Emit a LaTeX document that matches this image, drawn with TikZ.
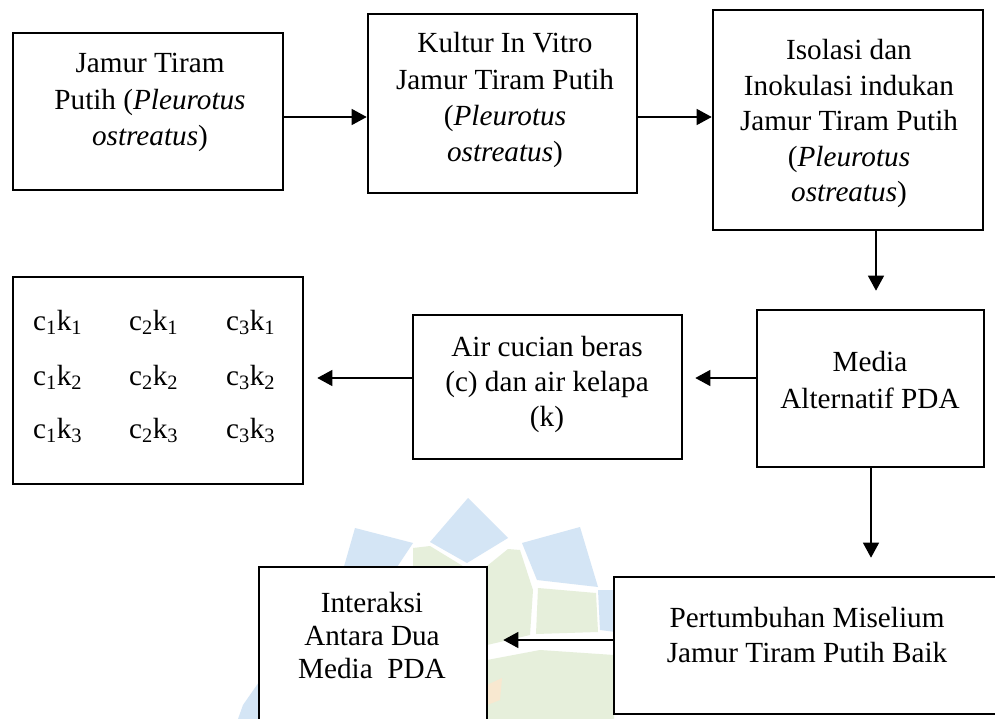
\documentclass[tikz,border=0pt]{standalone}
\usepackage{fontspec}
\setmainfont{Liberation Serif}
\usetikzlibrary{arrows.meta}
\definecolor{wmblue}{RGB}{212,229,245}
\definecolor{wmgreen}{RGB}{230,239,219}
\definecolor{wmorange}{RGB}{248,232,208}
\tikzset{
  box/.style={draw=black, line width=2.6pt, fill=white, rectangle, inner sep=0pt},
  txt/.style={align=center, inner sep=0pt, anchor=north, font=\fontsize{29.2}{36.3}\selectfont},
  txtb/.style={align=center, inner sep=0pt, anchor=north, font=\fontsize{29.2}{33}\selectfont},
  arr/.style={-{Triangle[length=15pt,width=16pt]}, line width=1.3pt},
  cell/.style={anchor=base west, inner sep=0pt, font=\fontsize{29.2}{35}\selectfont},
}
\begin{document}
\begin{tikzpicture}[x=1pt,y=-1pt]
\useasboundingbox (0,0) rectangle (995,719);
\clip (0,0) rectangle (995,719);
\fill[white] (0,0) rectangle (995,719);
% watermark
\fill[wmblue] (430,542) -- (468,498) -- (508,538) -- (467,563) -- cycle;
\fill[wmblue] (522,543) -- (580,527) -- (598,587) -- (537,580) -- cycle;
\fill[wmblue] (355,528) -- (413,543) -- (397,567) -- (343,570) -- cycle;
\fill[wmblue] (598,590) -- (616,590) -- (616,632) -- (600,630) -- cycle;
\fill[wmblue] (259,682) -- (259,719) -- (238,719) -- (243,705) -- cycle;
\fill[wmgreen] (413,548) -- (430,546) -- (466,568) -- (413,568) -- cycle;
\fill[wmgreen] (487,566) -- (508,549) -- (520,550) -- (533,590) -- (530,635) -- (487,645) -- cycle;
\fill[wmgreen] (538,588) -- (596,593) -- (598,632) -- (536,634) -- cycle;
\fill[wmgreen] (487,660) -- (540,650) -- (614,655) -- (614,719) -- (487,719) -- cycle;
\fill[wmorange] (487,685) -- (502,678) -- (500,700) -- (487,705) -- cycle;
% boxes
\node[box, minimum width=270pt, minimum height=157pt] (b1) at (148,111.5) {};
\node[box, minimum width=269pt, minimum height=179pt] (b2) at (502.5,103.5) {};
\node[box, minimum width=270pt, minimum height=220pt] (b3) at (848,120) {};
\node[box, minimum width=227pt, minimum height=157pt] (bm) at (870.5,388.5) {};
\node[box, minimum width=269pt, minimum height=144pt] (ba) at (547.5,387) {};
\node[box, minimum width=290pt, minimum height=207pt] (bg) at (158,380.5) {};
\node[box, minimum width=396pt, minimum height=137pt] (bp) at (812,645.5) {};
\node[box, minimum width=228pt, minimum height=173pt] (bi) at (373,653.5) {};
% texts
\node[txt] (t1) at (150,47.3) {\strut Jamur Tiram\\Putih (\textit{Pleurotus}\\\textit{ostreatus})};
\node[txt] (t2) at (505,27.3) {\strut Kultur In Vitro\\Jamur Tiram Putih\\(\textit{Pleurotus}\\\textit{ostreatus})};
\node[txt, font=\fontsize{29.2}{35.5}\selectfont] (t3) at (849,34.8) {\strut Isolasi dan\\Inokulasi indukan\\Jamur Tiram Putih\\(\textit{Pleurotus}\\\textit{ostreatus})};
\node[txt] (tm) at (870,346.3) {\strut Media\\Alternatif PDA};
\node[txt, font=\fontsize{29.2}{35}\selectfont] (ta) at (547,332) {\strut Air cucian beras\\(c) dan air kelapa\\(k)};
\node[txt, font=\fontsize{29.2}{35}\selectfont] (tp) at (807,603) {\strut Pertumbuhan Miselium\\Jamur Tiram Putih Baik};
\node[txtb] (ti) at (372,589.6) {\strut Interaksi\\Antara Dua\\Media\ \ PDA};
% grid
\node[cell] (g11) at (33,330) {c\textsubscript{1}k\textsubscript{1}};
\node[cell] (g21) at (129,330) {c\textsubscript{2}k\textsubscript{1}};
\node[cell] (g31) at (226,330) {c\textsubscript{3}k\textsubscript{1}};
\node[cell] (g12) at (33,385) {c\textsubscript{1}k\textsubscript{2}};
\node[cell] (g22) at (129,385) {c\textsubscript{2}k\textsubscript{2}};
\node[cell] (g32) at (226,385) {c\textsubscript{3}k\textsubscript{2}};
\node[cell] (g13) at (33,438) {c\textsubscript{1}k\textsubscript{3}};
\node[cell] (g23) at (129,438) {c\textsubscript{2}k\textsubscript{3}};
\node[cell] (g33) at (226,438) {c\textsubscript{3}k\textsubscript{3}};
% arrows
\draw[arr] ([yshift=-5.5pt]b1.east) -- ([yshift=-13.5pt]b2.west);
\draw[arr] ([yshift=-13.5pt]b2.east) -- ([yshift=3pt]b3.west);
\draw[arr, shorten >=18pt] ([xshift=28pt]b3.south) -- ([xshift=5.5pt]bm.north);
\draw[arr, shorten >=12pt] ([yshift=10.5pt]bm.west) -- ([yshift=9pt]ba.east);
\draw[arr, shorten >=13pt] ([yshift=9pt]ba.west) -- ([yshift=2.5pt]bg.east);
\draw[arr, shorten >=18pt] ([xshift=0.5pt]bm.south) -- ([xshift=59pt]bp.north);
\draw[arr, shorten >=15pt] ([yshift=5.5pt]bp.west) -- ([yshift=13.5pt]bi.east);
\end{tikzpicture}
\end{document}
